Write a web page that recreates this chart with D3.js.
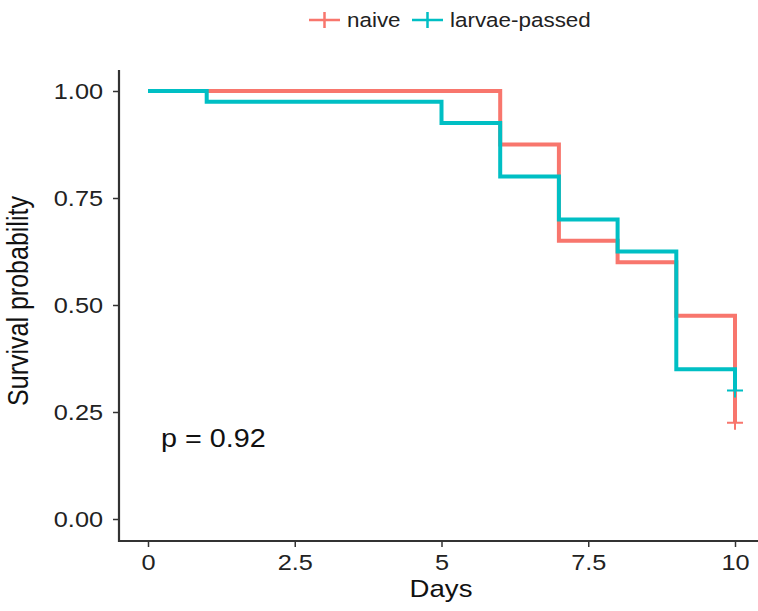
<!DOCTYPE html>
<html>
<head>
<meta charset="utf-8">
<script src="https://cdn.jsdelivr.net/npm/d3@7"></script>
<style>
  body { margin: 0; background: #fff; }
  text { font-family: "Liberation Sans", Arial, sans-serif; }
</style>
</head>
<body>
<div id="chart"></div>
<script>
// survival curves (time, survival)
const groups = ["naive", "larvae-passed"];
const colors = ["#F8766D", "#00BFC4"];
const naiveTimes = [0, 6, 7, 8, 9, 10];
const naiveSurv = [1.0, 0.875, 0.65, 0.6, 0.475, 0.225];
const larvaeTimes = [0, 1, 5, 6, 7, 8, 9, 10];
const larvaeSurv = [1.0, 0.975, 0.925, 0.8, 0.7, 0.625, 0.35, 0.3];
const xTicks = [0, 2.5, 5, 7.5, 10];
const yTicks = [0, 0.25, 0.5, 0.75, 1.0];
const pLabel = "p = 0.92";

const width = 758, height = 611;
const sx = 1.15; // the picture's text is a little wide
const svg = d3.select("#chart").append("svg")
  .attr("width", width).attr("height", height);

const x = d3.scaleLinear().domain([0, 10]).range([148, 735]);
const y = d3.scaleLinear().domain([0, 1]).range([519, 91]);

// axes
const xAxis = svg.append("g").attr("transform", "translate(0,541)")
  .call(d3.axisBottom(x).tickValues(xTicks).tickFormat(d3.format("~g")).tickSize(6).tickSizeOuter(0));
const yAxis = svg.append("g").attr("transform", "translate(119,0)")
  .call(d3.axisLeft(y).tickValues(yTicks).tickFormat(d3.format(".2f")).tickSize(6).tickSizeOuter(0));

[xAxis, yAxis].forEach(a => {
  a.select(".domain").remove();
  a.selectAll("line").attr("stroke", "#333").attr("stroke-width", 1.5);
  a.selectAll("text").attr("fill", "#222").style("font-size", "22px")
    .attr("transform", `scale(${sx},1)`);
});
xAxis.selectAll("text").attr("y", 29).attr("dy", 0);
yAxis.selectAll("text").attr("x", -16 / sx).attr("dy", "0.36em");

svg.append("line").attr("x1", 119).attr("x2", 119).attr("y1", 70).attr("y2", 542)
  .attr("stroke", "#333").attr("stroke-width", 2.2);
svg.append("line").attr("x1", 118).attr("x2", 758).attr("y1", 541).attr("y2", 541)
  .attr("stroke", "#333").attr("stroke-width", 2.2);

// axis titles
svg.append("text").attr("transform", `translate(441,597) scale(${sx},1)`).attr("text-anchor", "middle")
  .style("font-size", "24px").attr("fill", "#111").text("Days");
svg.append("text").attr("transform", `translate(28,301) scale(${sx},1) rotate(-90)`).attr("text-anchor", "middle")
  .style("font-size", "25px").attr("fill", "#111").text("Survival probability");

// curves
const step = d3.line().x(d => x(d[0])).y(d => y(d[1])).curve(d3.curveStepAfter);
const series = [
  naiveTimes.map((t, i) => [t, naiveSurv[i]]),
  larvaeTimes.map((t, i) => [t, larvaeSurv[i]])
];
[0, 1].forEach(k => {
  svg.append("path").datum(series[k])
    .attr("fill", "none").attr("stroke", colors[k]).attr("stroke-width", 4)
    .attr("d", step);
  const last = series[k][series[k].length - 1];
  svg.append("path")
    .attr("d", `M${x(last[0]) - 8},${y(last[1])}h16M${x(last[0])},${y(last[1]) - 7}v14`)
    .attr("stroke", colors[k]).attr("stroke-width", 2);
});

svg.append("text").attr("transform", `translate(161,447) scale(${sx},1)`).style("font-size", "25px")
  .attr("fill", "#111").text(pLabel);

// legend
const legX = [309, 412];
groups.forEach((g, i) => {
  const lg = svg.append("g").attr("transform", `translate(${legX[i]},20)`);
  lg.append("path").attr("d", "M0,0h31M15.5,-8v16").attr("stroke", colors[i]).attr("stroke-width", 2.5);
  lg.append("text").attr("transform", `translate(38,7) scale(${sx},1)`)
    .style("font-size", "19.5px").attr("fill", "#222").text(g);
});
</script>
</body>
</html>
